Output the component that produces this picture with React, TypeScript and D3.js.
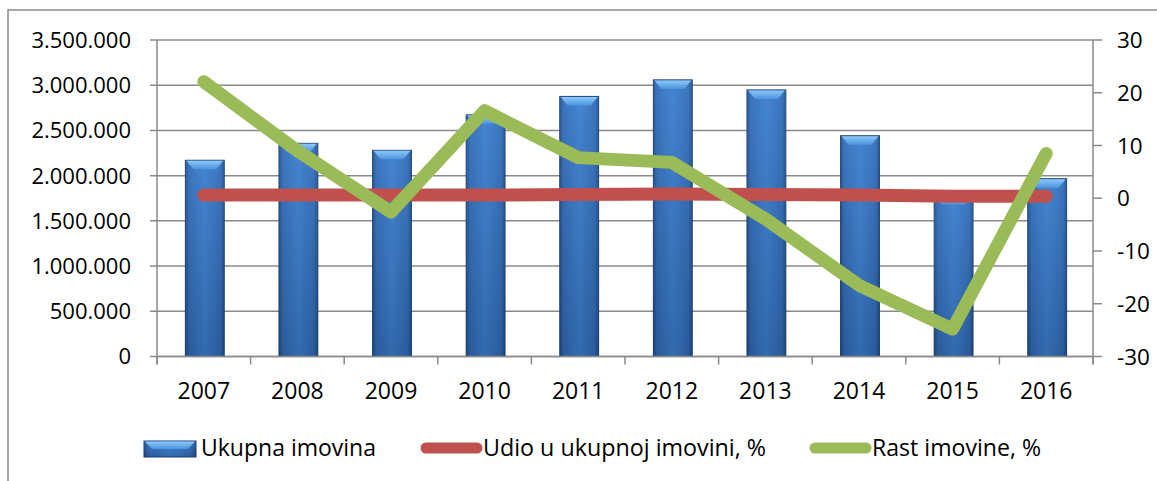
import React from "react"
import * as d3 from "d3"

const YEARS = ["2007", "2008", "2009", "2010", "2011", "2012", "2013", "2014", "2015", "2016"]
const UKUPNA_IMOVINA = [2170000, 2357000, 2280000, 2672000, 2876000, 3059000, 2948000, 2441000, 1780000, 1966000]
const UDIO = [0.6, 0.6, 0.6, 0.6, 0.7, 0.8, 0.7, 0.6, 0.4, 0.4]
const RAST = [22.1, 9.0, -2.6, 16.6, 7.7, 6.8, -3.9, -16.5, -24.8, 8.5]
const LEFT_TICKS = [0, 500000, 1000000, 1500000, 2000000, 2500000, 3000000, 3500000]
const RIGHT_TICKS = [-30, -20, -10, 0, 10, 20, 30]
const LEGEND = ["Ukupna imovina", "Udio u ukupnoj imovini, %", "Rast imovine, %"]

const W = 1157
const H = 481
const PLOT = { left: 157, right: 1093, top: 40, bottom: 356.5 }
const FONT = "'Open Sans', 'Noto Sans', sans-serif"
const GRID = "#8a8a8a"
const RED = "#c0504d"
const GREEN = "#9bbb59"

const fmt = d3.formatLocale({ decimal: ",", thousands: ".", grouping: [3], currency: ["", ""] }).format(",")

// Excel-ish bevelled bar
function Bar({ x, y, w, h }: { x: number; y: number; w: number; h: number }) {
  const bev = Math.min(9, h / 2)
  const inset = Math.min(8, w / 4)
  return (
    <g>
      <rect x={x} y={y} width={w} height={h} fill="url(#barBody)" stroke="#1b3d68" strokeWidth={1} />
      <rect x={x} y={y} width={w} height={h} fill="url(#barShade)" />
      <polygon
        points={`${x + 1},${y + 0.5} ${x + w - 1},${y + 0.5} ${x + w - inset},${y + bev} ${x + inset},${y + bev}`}
        fill="url(#barBevel)"
      />
    </g>
  )
}

export default function App() {
  const x = d3.scaleBand<string>().domain(YEARS).range([PLOT.left, PLOT.right]).padding(0)
  const yL = d3.scaleLinear().domain([0, 3500000]).range([PLOT.bottom, PLOT.top])
  const yR = d3.scaleLinear().domain([-30, 30]).range([PLOT.bottom, PLOT.top])
  const barW = x.bandwidth() * 0.415
  const cx = (d: string) => (x(d) ?? 0) + x.bandwidth() / 2

  const redLine = d3
    .line<number>()
    .x((_, i) => cx(YEARS[i]))
    .y(v => yR(v))(UDIO) ?? ""
  const greenLine = d3
    .line<number>()
    .x((_, i) => cx(YEARS[i]))
    .y(v => yR(v))(RAST) ?? ""

  const boundaries = YEARS.map(d => x(d) ?? 0).concat([PLOT.right])

  return (
    <svg
      width={W}
      height={H}
      style={{ position: "fixed", left: 0, top: 0, background: "#fff" }}
      fontFamily={FONT}
    >
      <defs>
        <linearGradient id="barBody" x1="0" x2="1" y1="0" y2="0">
          <stop offset="0%" stopColor="#1f4a80" />
          <stop offset="10%" stopColor="#3369b0" />
          <stop offset="50%" stopColor="#3e7ecb" />
          <stop offset="90%" stopColor="#3369b0" />
          <stop offset="100%" stopColor="#1f4a80" />
        </linearGradient>
        <linearGradient id="barShade" x1="0" x2="0" y1="0" y2="1">
          <stop offset="0%" stopColor="#5a9be6" stopOpacity={0.25} />
          <stop offset="100%" stopColor="#10305a" stopOpacity={0.25} />
        </linearGradient>
        <linearGradient id="barBevel" x1="0" x2="0" y1="0" y2="1">
          <stop offset="0%" stopColor="#8cc8f8" />
          <stop offset="100%" stopColor="#4d94de" />
        </linearGradient>
      </defs>

      <rect x={8} y={10} width={W} height={H} fill="none" stroke="#8a8a8a" strokeWidth={1.5} />

      {/* gridlines + left ticks */}
      {LEFT_TICKS.map(t => (
        <line key={t} x1={PLOT.left - 7} x2={PLOT.right} y1={yL(t)} y2={yL(t)} stroke={GRID} strokeWidth={1.5} />
      ))}
      {LEFT_TICKS.map(t => (
        <text key={t} x={131} y={yL(t)} dy="0.36em" textAnchor="end" fontSize={22} fill="#000">
          {fmt(t)}
        </text>
      ))}

      {/* right axis */}
      <line x1={PLOT.right} x2={PLOT.right} y1={PLOT.top} y2={PLOT.bottom + 8} stroke={GRID} strokeWidth={1.5} />
      {RIGHT_TICKS.map(t => (
        <g key={t}>
          <line x1={PLOT.right} x2={PLOT.right + 9} y1={yR(t)} y2={yR(t)} stroke={GRID} strokeWidth={1.5} />
          <text x={1117} y={yR(t)} dy="0.36em" fontSize={22.5} fill="#000">
            {String(t)}
          </text>
        </g>
      ))}

      {/* left axis + category ticks */}
      <line x1={PLOT.left} x2={PLOT.left} y1={PLOT.top} y2={PLOT.bottom + 8} stroke={GRID} strokeWidth={1.5} />
      {boundaries.map((b, i) => (
        <line key={i} x1={b} x2={b} y1={PLOT.bottom} y2={PLOT.bottom + 8} stroke={GRID} strokeWidth={1.5} />
      ))}

      {/* bars */}
      {YEARS.map((d, i) => (
        <Bar key={d} x={cx(d) - barW / 2 + 1} y={yL(UKUPNA_IMOVINA[i])} w={barW} h={PLOT.bottom - yL(UKUPNA_IMOVINA[i])} />
      ))}

      <line x1={PLOT.left} x2={PLOT.right} y1={PLOT.bottom} y2={PLOT.bottom} stroke={GRID} strokeWidth={1.5} />

      {YEARS.map(d => (
        <text key={d} x={cx(d)} y={399} textAnchor="middle" fontSize={23} fill="#000">
          {d}
        </text>
      ))}

      {/* lines */}
      <path d={redLine} fill="none" stroke={RED} strokeWidth={13} strokeLinecap="round" strokeLinejoin="round" />
      <path d={greenLine} fill="none" stroke={GREEN} strokeWidth={13} strokeLinecap="round" strokeLinejoin="round" />

      {/* legend */}
      <g>
        <Bar x={144} y={441} w={52} h={16} />
        <text x={201} y={455.5} fontSize={24} textLength={175} lengthAdjust="spacingAndGlyphs">
          {LEGEND[0]}
        </text>
        <line x1={426} x2={477} y1={448} y2={448} stroke={RED} strokeWidth={11} strokeLinecap="round" />
        <text x={483} y={455.5} fontSize={24} textLength={283} lengthAdjust="spacingAndGlyphs">
          {LEGEND[1]}
        </text>
        <line x1={815} x2={866} y1={448} y2={448} stroke={GREEN} strokeWidth={11} strokeLinecap="round" />
        <text x={872} y={455.5} fontSize={24} textLength={169} lengthAdjust="spacingAndGlyphs">
          {LEGEND[2]}
        </text>
      </g>
    </svg>
  )
}
